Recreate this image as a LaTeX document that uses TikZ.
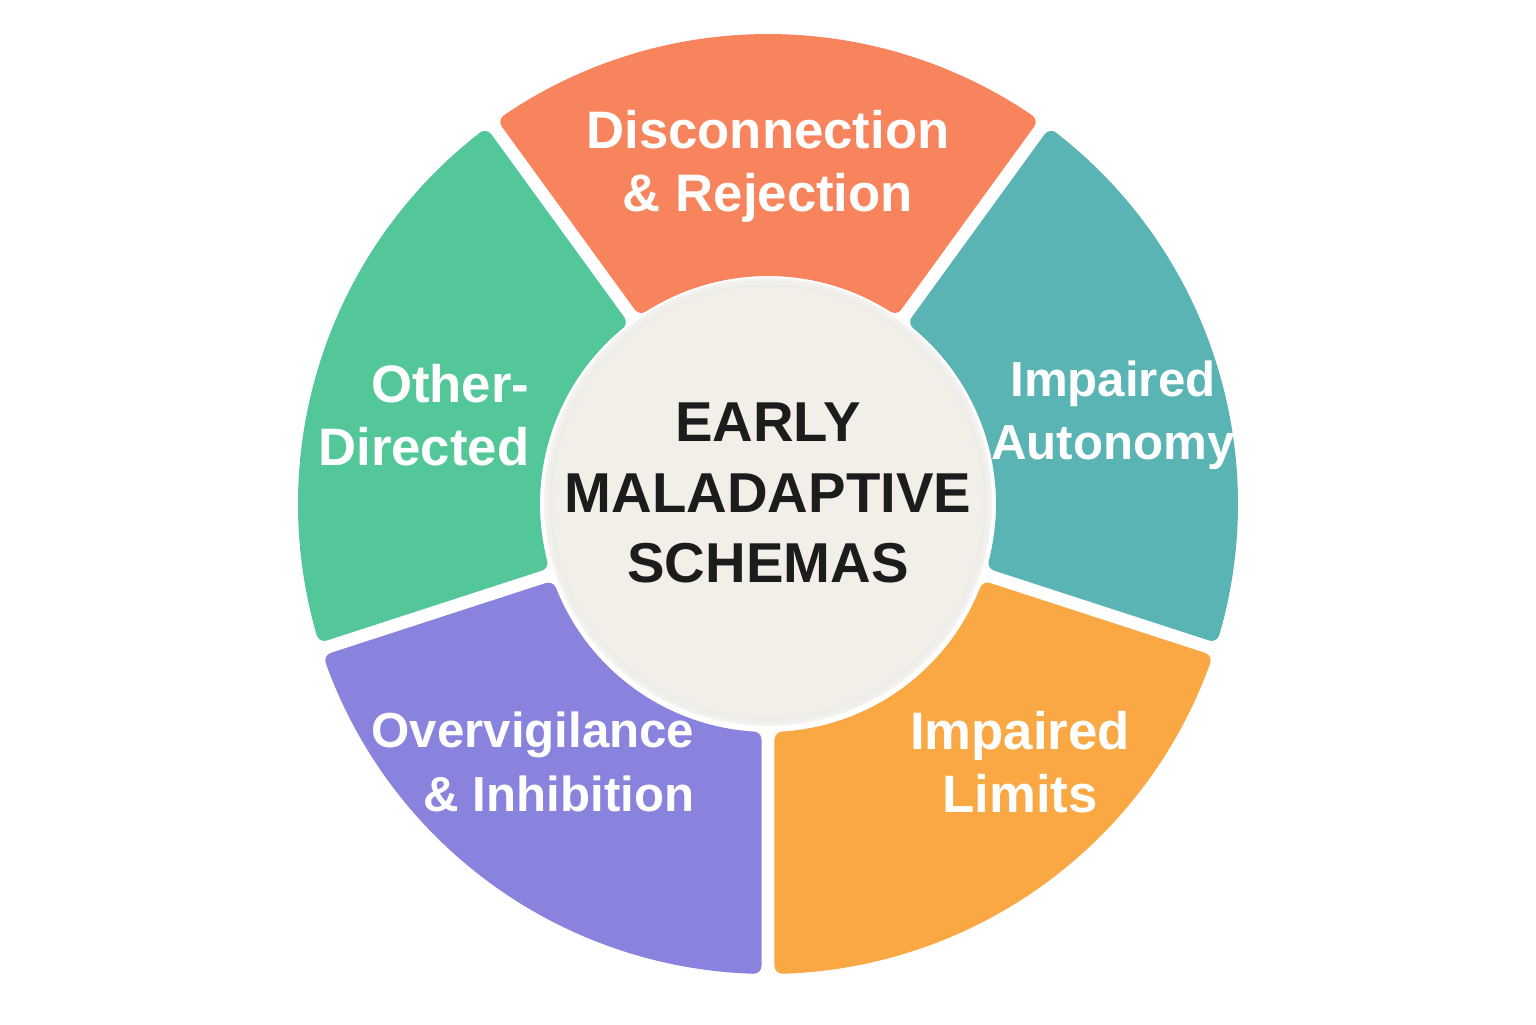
\documentclass[tikz,border=0pt]{standalone}
\usepackage{fontspec}
\setmainfont{Liberation Sans}
\usepackage{xcolor}
\usetikzlibrary{calc}
\definecolor{rejcoral}{HTML}{F7845C}
\definecolor{autoteal}{HTML}{5AB4B4}
\definecolor{limorange}{HTML}{F9A843}
\definecolor{vigpurple}{HTML}{8A83DE}
\definecolor{othgreen}{HTML}{54C79A}
\definecolor{corecream}{HTML}{F2EEE8}
\definecolor{inkdark}{HTML}{1C1C1C}

\tikzset{
  wedgelabel/.style={text=white, font=\fontsize{15}{18}\selectfont\bfseries, inner sep=0pt},
  tightlabel/.style={wedgelabel, font=\fontsize{14}{18}\selectfont\bfseries},
  corelabel/.style={text=inkdark, align=center, font=\fontsize{16}{20}\selectfont\bfseries, inner sep=0pt}
}

\begin{document}
\begin{tikzpicture}
  \useasboundingbox (-7.68,-5.20) rectangle (7.68,5.04);
  % the five wedges (shrunk, then stroked round to get soft corners)
  \foreach \a/\b/\col in {54/126/rejcoral, 126/198/othgreen, 198/270/vigpurple,
                          270/342/limorange, -18/54/autoteal} {
    \pgfmathsetmacro{\di}{asin(0.145/2.36)}
    \pgfmathsetmacro{\do}{asin(0.145/4.62)}
    \fill[\col, draw=\col, line width=0.16cm, line join=round]
      (\a+\di:2.36) -- (\a+\do:4.62) arc[start angle=\a+\do, end angle=\b-\do, radius=4.62]
      -- (\b-\di:2.36) arc[start angle=\b-\di, end angle=\a+\di, radius=2.36] -- cycle;
  }
  % the soft rim of the core
  \foreach \r/\s in {2.24/2, 2.21/4, 2.18/6, 2.16/5}
    \fill[black!\s!corecream!60!white] (0,0.02) circle (\r);
  \fill[corecream] (0,0.02) circle (2.14);
  \node[corelabel] (core) at (0,0.11) {EARLY\\MALADAPTIVE\\SCHEMAS};
  % wedge names
  \node[wedgelabel, align=center] (rej) at (0,3.38) {Disconnection\\\& Rejection};
  \node[wedgelabel, align=right, anchor=east] (other) at (-2.38,0.89) {Other-\\Directed};
  \node[tightlabel, align=center] (auto) at (3.45,0.89) {Impaired\\Autonomy};
  \node[tightlabel, align=right, anchor=east] (vig) at (-0.73,-2.58) {Overvigilance\\\& Inhibition};
  \node[wedgelabel, align=center] (lim) at (2.52,-2.58) {Impaired\\Limits};
\end{tikzpicture}
\end{document}
